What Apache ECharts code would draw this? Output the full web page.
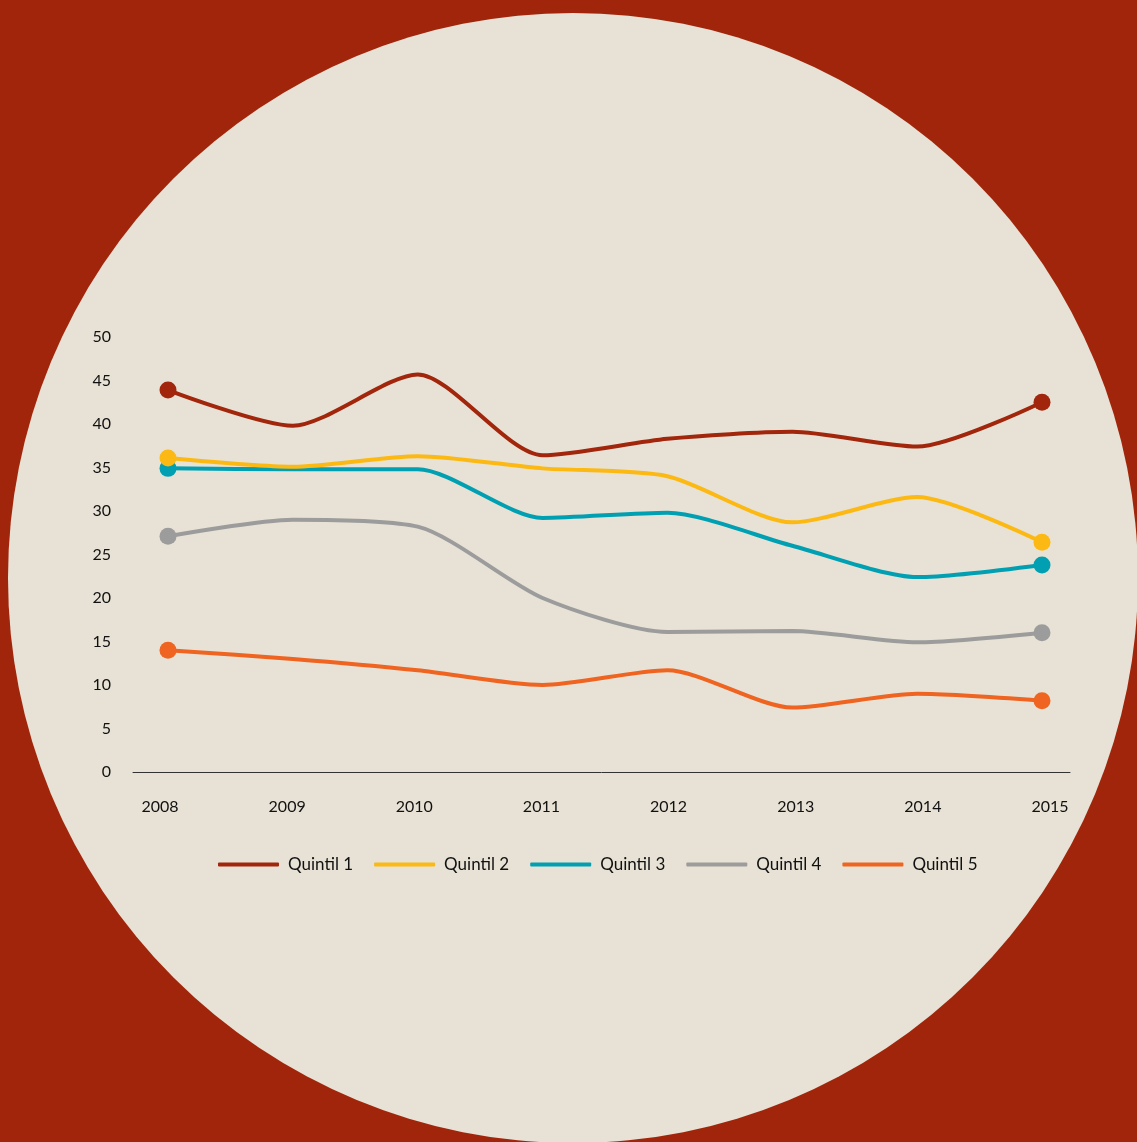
<!DOCTYPE html>
<html><head><meta charset="utf-8">
<script src="https://cdn.jsdelivr.net/npm/echarts@6/dist/echarts.min.js"></script>
<style>html,body{margin:0;padding:0;background:#A0250B;}#c{width:1137px;height:1142px;}</style>
</head><body><div id="c"></div>
<script>
const years = ['2008','2009','2010','2011','2012','2013','2014','2015'];
const seriesNames = ['Quintil 1','Quintil 2','Quintil 3','Quintil 4','Quintil 5'];
const q1 = [43.9, 39.8, 45.7, 36.4, 38.3, 39.1, 37.4, 42.5];
const q2 = [36.1, 35.1, 36.3, 34.9, 34.0, 28.7, 31.6, 26.4];
const q3 = [34.9, 34.8, 34.8, 29.2, 29.8, 26.0, 22.4, 23.8];
const q4 = [27.1, 29.0, 28.2, 20.0, 16.1, 16.2, 14.9, 16.0];
const q5 = [14.0, 13.0, 11.7, 10.0, 11.7, 7.4, 9.0, 8.2];
const colors = ['#A1260B','#FDB913','#00A0B2','#9D9C9C','#EE6420'];
const yTicks = {min:0, max:50, interval:5};

const FONT = 'Lato';
const all = [q1,q2,q3,q4,q5];
const zs = [3,6,4,3,3];
const chart = echarts.init(document.getElementById('c'));
chart.setOption({
  backgroundColor:'#A0250B',
  animation:false,
  graphic:[{type:'circle', z:-100, silent:true, shape:{cx:573, cy:578, r:565}, style:{fill:'#E7E2D5'}}],
  legend:{
    left:213, top:851, itemWidth:61, itemHeight:4, itemGap:21, icon:'roundRect',
    textStyle:{fontFamily:FONT, fontSize:17, color:'#111', padding:[0,0,0,4]},
    data:seriesNames
  },
  grid:[
    {left:168, right:95, top:337, bottom:370},
    {left:160, right:87, top:337, bottom:370},
    {left:133, right:67, top:337, bottom:370}
  ],
  xAxis:[
    {gridIndex:0, type:'category', data:years, boundaryGap:false, show:false},
    {gridIndex:1, type:'category', data:years, boundaryGap:false,
      axisLine:{show:false}, axisTick:{show:false},
      axisLabel:{margin:27, fontFamily:FONT, fontSize:16, color:'#111', interval:0}},
    {gridIndex:2, type:'category', data:years, boundaryGap:false,
      axisLine:{show:true, lineStyle:{color:'#333', width:1}}, axisTick:{show:false}, axisLabel:{show:false}}
  ],
  yAxis:[
    {gridIndex:0, type:'value', min:yTicks.min, max:yTicks.max, interval:yTicks.interval, show:false},
    {gridIndex:1, type:'value', min:yTicks.min, max:yTicks.max, interval:yTicks.interval, show:false},
    {gridIndex:2, type:'value', min:yTicks.min, max:yTicks.max, interval:yTicks.interval,
      axisLine:{show:false}, axisTick:{show:false}, splitLine:{show:false},
      axisLabel:{margin:22, fontFamily:FONT, fontSize:16, color:'#111'}}
  ],
  series: all.map((arr,k)=>({
    name:seriesNames[k], type:'line', xAxisIndex:0, yAxisIndex:0, z:zs[k],
    smooth:0.25, color:colors[k],
    lineStyle:{width:4, color:colors[k]},
    itemStyle:{color:colors[k]},
    symbolSize:17,
    data: arr.map((v,i)=>({value:v, symbol:(i===0||i===arr.length-1)?'circle':'none'}))
  }))
});
</script></body></html>
